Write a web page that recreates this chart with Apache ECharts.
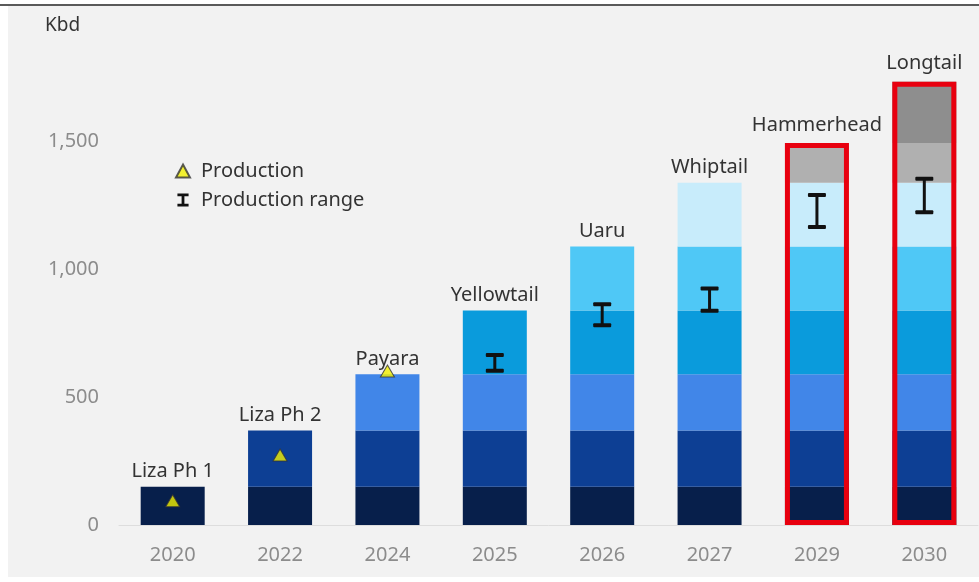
<!DOCTYPE html>
<html>
<head>
<meta charset="utf-8">
<script src="https://cdn.jsdelivr.net/npm/echarts@6/dist/echarts.min.js"></script>
<style>
html,body{margin:0;padding:0;background:#ffffff;}
#chart{width:979px;height:582px;}
</style>
</head>
<body>
<div id="chart"></div>
<script>
// ---- data ----
const categories = ['2020','2022','2024','2025','2026','2027','2029','2030'];
const projects = ['Liza Ph 1','Liza Ph 2','Payara','Yellowtail','Uaru','Whiptail','Hammerhead','Longtail'];
const lizaPh1    = [150, 150, 150, 150, 150, 150, 150, 150];
const lizaPh2    = [null, 220, 220, 220, 220, 220, 220, 220];
const payara     = [null, null, 220, 220, 220, 220, 220, 220];
const yellowtail = [null, null, null, 250, 250, 250, 250, 250];
const uaru       = [null, null, null, null, 250, 250, 250, 250];
const whiptail   = [null, null, null, null, null, 250, 250, 250];
const hammerhead = [null, null, null, null, null, null, 155, 155];
const longtail   = [null, null, null, null, null, null, null, 240];
const production = [[0, 95], [1, 274], [2, 603]];          // [category index, kbd]
const productionRange = [[3, 604, 665], [4, 782, 864], [5, 839, 926], [6, 1166, 1292], [7, 1224, 1355]]; // [idx, low, high]
const highlighted = ['2029', '2030'];
const yTicks = [0, 500, 1000, 1500];

// ---- styles ----
const FONT = 'Noto Sans';
const colors = ['#071f4b', '#0d3f94', '#4186e8', '#0a9bdc', '#4fc8f6', '#c8ecfb', '#b0b0b0', '#8e8e8e'];
const layers = [lizaPh1, lizaPh2, payara, yellowtail, uaru, whiptail, hammerhead, longtail];

const barSeries = layers.map((arr, i) => ({
  name: projects[i],
  type: 'bar',
  stack: 'cap',
  barWidth: 64,
  itemStyle: { color: colors[i] },
  emphasis: { disabled: true },
  z: 2,
  data: arr.map((v, j) => j === i ? {
    value: v,
    label: {
      show: true, position: 'top', distance: i >= 6 ? 8 : 5,
      formatter: projects[i], fontFamily: FONT, fontSize: 20, color: '#333333'
    }
  } : v)
}));

const totals = categories.map((c, j) => layers.reduce((s, a) => s + (a[j] || 0), 0));
const boxData = categories.map((c, j) => highlighted.includes(c) ? totals[j] : null);

const option = {
  backgroundColor: 'transparent',
  animation: false,
  graphic: [
    { type: 'rect', shape: { x: 8, y: 6, width: 971, height: 571 }, style: { fill: '#f2f2f2' }, z: -10, silent: true },
    { type: 'rect', shape: { x: 0, y: 4, width: 979, height: 2 }, style: { fill: '#5a5a5a' }, z: -9, silent: true }
  ],
  title: {
    text: 'Kbd', left: 40, top: 11,
    textStyle: { fontFamily: FONT, fontSize: 19, fontWeight: 'normal', color: '#333333' }
  },
  legend: {
    orient: 'vertical', left: 170, top: 156, itemGap: 9,
    itemWidth: 14, itemHeight: 13,
    textStyle: { fontFamily: FONT, fontSize: 20, color: '#333333', padding: [0, 0, 0, 6] },
    data: [
      { name: 'Production', icon: 'triangle' },
      { name: 'Production range', icon: 'path://M0,0 H12 V3 H7.5 V11 H12 V14 H0 V11 H4.5 V3 H0 Z' }
    ],
    selectedMode: false
  },
  grid: { left: 119, right: 1, top: 14, bottom: 57 },
  xAxis: {
    type: 'category',
    data: categories,
    axisLine: { lineStyle: { color: '#dddddd', width: 1 } },
    axisTick: { show: false },
    axisLabel: { fontFamily: FONT, fontSize: 20, color: '#8c8c8c', margin: 20 }
  },
  yAxis: {
    type: 'value', min: 0, max: 2000, interval: 500,
    axisLine: { show: false }, axisTick: { show: false }, splitLine: { show: false },
    axisLabel: {
      fontFamily: FONT, fontSize: 20, color: '#8c8c8c', margin: 20,
      formatter: v => yTicks.includes(v) ? v.toLocaleString('en-US') : ''
    }
  },
  series: barSeries.concat([
    {
      name: 'box', type: 'bar', barWidth: 64, barGap: '-100%', z: 3,
      itemStyle: { color: 'rgba(0,0,0,0)', borderColor: '#e8000f', borderWidth: 5 },
      emphasis: { disabled: true },
      data: boxData
    },
    {
      name: 'Production range', type: 'custom', z: 5,
      itemStyle: { color: '#111111' },
      encode: { x: 0, y: [1, 2] },
      data: productionRange,
      renderItem: function (params, api) {
        const x = api.value(0);
        const lo = api.coord([x, api.value(1)]);
        const hi = api.coord([x, api.value(2)]);
        const hw = 9;
        return {
          type: 'group',
          children: [
            { type: 'rect', shape: { x: lo[0] - 1.5, y: hi[1], width: 3, height: lo[1] - hi[1] }, style: { fill: '#111111' } },
            { type: 'rect', shape: { x: hi[0] - hw, y: hi[1] - 2, width: hw * 2, height: 4, r: 1 }, style: { fill: '#111111' } },
            { type: 'rect', shape: { x: lo[0] - hw, y: lo[1] - 2, width: hw * 2, height: 4, r: 1 }, style: { fill: '#111111' } }
          ]
        };
      }
    },
    {
      name: 'Production', type: 'scatter', z: 6,
      symbol: 'triangle', symbolSize: [14, 12],
      itemStyle: { color: '#f2f000', borderColor: '#333333', borderWidth: 1 },
      data: production
    }
  ])
};

const chart = echarts.init(document.getElementById('chart'), null, { renderer: 'canvas' });
chart.setOption(option);
</script>
</body>
</html>
